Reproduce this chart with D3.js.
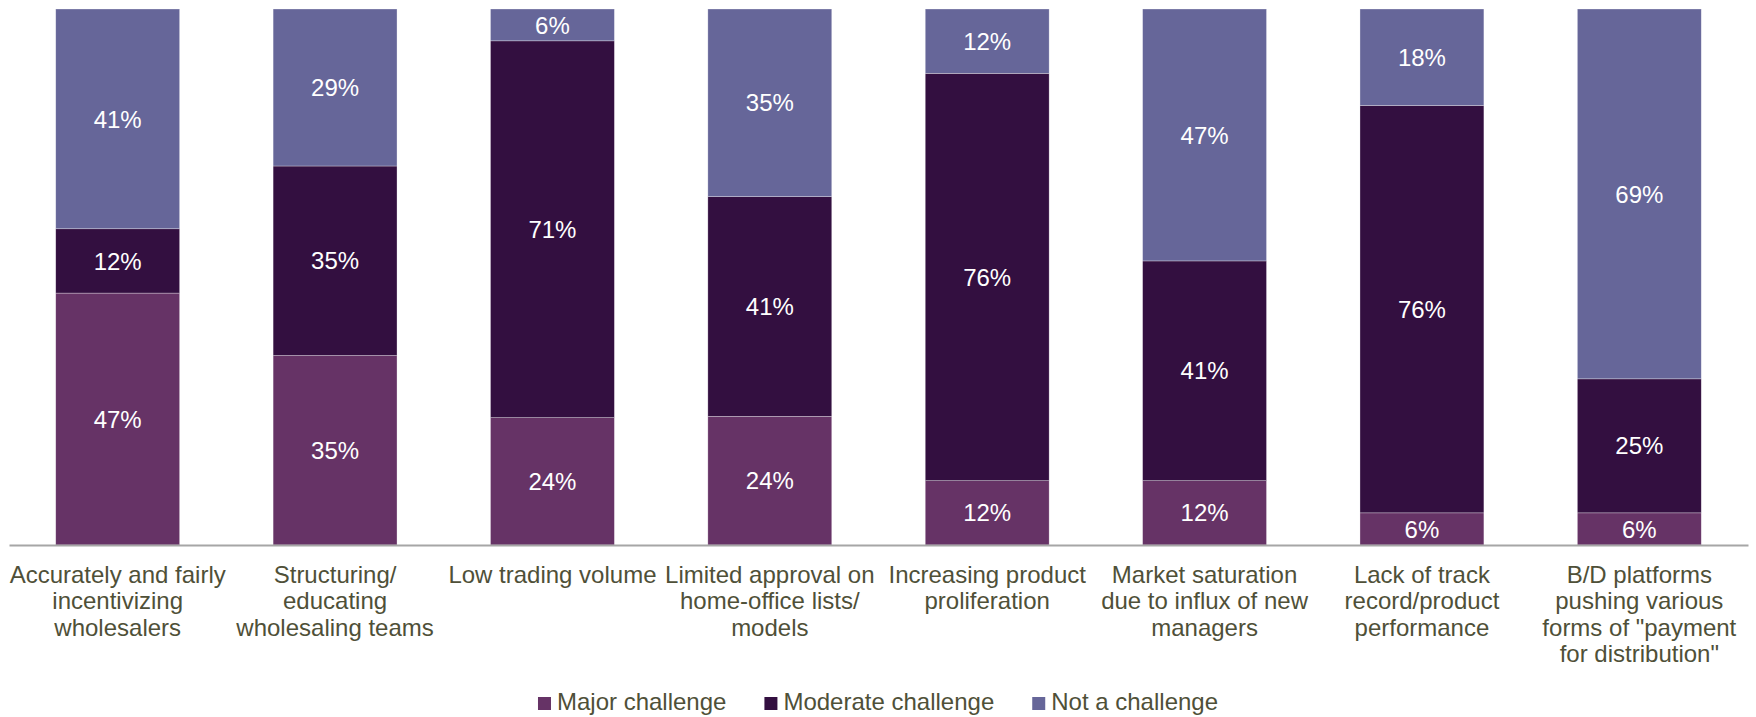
<!DOCTYPE html>
<html>
<head>
<meta charset="utf-8">
<script src="https://cdn.jsdelivr.net/npm/d3@7"></script>
<style>
  body { margin: 0; background: #fff; }
  text { font-family: "Liberation Sans", Arial, sans-serif; }
</style>
</head>
<body>
<div id="chart"></div>
<script>
// categories (one array of lines per tick label)
var categories = [
    ["Accurately and fairly", "incentivizing", "wholesalers"],
    ["Structuring/", "educating", "wholesaling teams"],
    ["Low trading volume"],
    ["Limited approval on", "home-office lists/", "models"],
    ["Increasing product", "proliferation"],
    ["Market saturation", "due to influx of new", "managers"],
    ["Lack of track", "record/product", "performance"],
    ["B/D platforms", "pushing various", "forms of \"payment", "for distribution\""]
];

var seriesNames = ["Major challenge", "Moderate challenge", "Not a challenge"];
var major = [47, 35, 24, 24, 12, 12, 6, 6];
var moderate = [12, 35, 71, 41, 76, 41, 76, 25];
var notChallenge = [41, 29, 6, 35, 12, 47, 18, 69];

var colors = ["#663366", "#330f40", "#666699"];

var width = 1756, height = 717;
var margin = {top: 9, right: 8, bottom: 172, left: 9};
var innerW = width - margin.left - margin.right,
    innerH = height - margin.top - margin.bottom;

var svg = d3.select("#chart").append("svg")
    .attr("width", width)
    .attr("height", height);

var g = svg.append("g")
    .attr("transform", "translate(" + margin.left + "," + margin.top + ")");

// build rows for the stack, 100% stacked so each column is normalised
var keys = ["major", "moderate", "not"];
var rows = categories.map(function (c, i) {
    var tot = major[i] + moderate[i] + notChallenge[i];
    return {
        idx: i,
        major: major[i] / tot,
        moderate: moderate[i] / tot,
        not: notChallenge[i] / tot,
        raw: {major: major[i], moderate: moderate[i], not: notChallenge[i]}
    };
});

var x = d3.scaleBand()
    .domain(d3.range(categories.length))
    .range([0, innerW])
    .paddingInner(0.43)
    .paddingOuter(0.215);

var y = d3.scaleLinear().domain([0, 1]).range([innerH, 0]);

var stacked = d3.stack().keys(keys)(rows);

var layer = g.selectAll("g.layer")
    .data(stacked)
    .enter().append("g")
    .attr("class", "layer")
    .attr("fill", function (d, i) { return colors[i]; });

layer.selectAll("rect")
    .data(function (d) { return d; })
    .enter().append("rect")
    .attr("x", function (d) { return x(d.data.idx); })
    .attr("y", function (d) { return y(d[1]); })
    .attr("width", x.bandwidth())
    .attr("height", function (d) { return y(d[0]) - y(d[1]); })
    .attr("stroke", "#ffffff")
    .attr("stroke-width", 0.6)
    .attr("stroke-opacity", 0.5);

// value labels
layer.each(function (s) {
    var key = s.key;
    d3.select(this).selectAll("text")
        .data(s)
        .enter().append("text")
        .attr("x", function (d) { return x(d.data.idx) + x.bandwidth() / 2; })
        .attr("y", function (d) { return (y(d[0]) + y(d[1])) / 2; })
        .attr("dy", "0.36em")
        .attr("text-anchor", "middle")
        .attr("fill", "#ffffff")
        .style("font-size", "24px")
        .text(function (d) { return d.data.raw[key] + "%"; });
});

// x axis
var xAxis = g.append("g")
    .attr("transform", "translate(0," + innerH + ")")
    .call(d3.axisBottom(x).tickSize(0).tickSizeOuter(0).tickFormat(""));

xAxis.select(".domain")
    .attr("stroke", "#a6a6a6")
    .attr("stroke-width", 2);

xAxis.selectAll(".tick text").remove();

xAxis.selectAll(".tick")
    .append("text")
    .attr("text-anchor", "middle")
    .attr("fill", "#4f5038")
    .style("font-size", "24px")
    .selectAll("tspan")
    .data(function (d) { return categories[d]; })
    .enter().append("tspan")
    .attr("x", 0)
    .attr("y", function (d, i) { return 38 + i * 26.3; })
    .text(function (d) { return d; });

// legend, centred
var legend = svg.append("g").attr("class", "legend");
var item = legend.selectAll("g")
    .data(seriesNames)
    .enter().append("g");

item.append("rect")
    .attr("width", 13)
    .attr("height", 13)
    .attr("y", -13)
    .attr("fill", function (d, i) { return colors[i]; });

item.append("text")
    .attr("x", 19)
    .attr("y", 0)
    .attr("fill", "#4f5038")
    .style("font-size", "24px")
    .text(function (d) { return d; });

var pos = 0;
item.each(function () {
    var w = this.querySelector("text").getComputedTextLength() + 19;
    d3.select(this).attr("transform", "translate(" + pos + ",0)");
    pos += w + 38;
});
pos -= 38;
legend.attr("transform", "translate(" + ((width - pos) / 2) + ",710)");
</script>
</body>
</html>
